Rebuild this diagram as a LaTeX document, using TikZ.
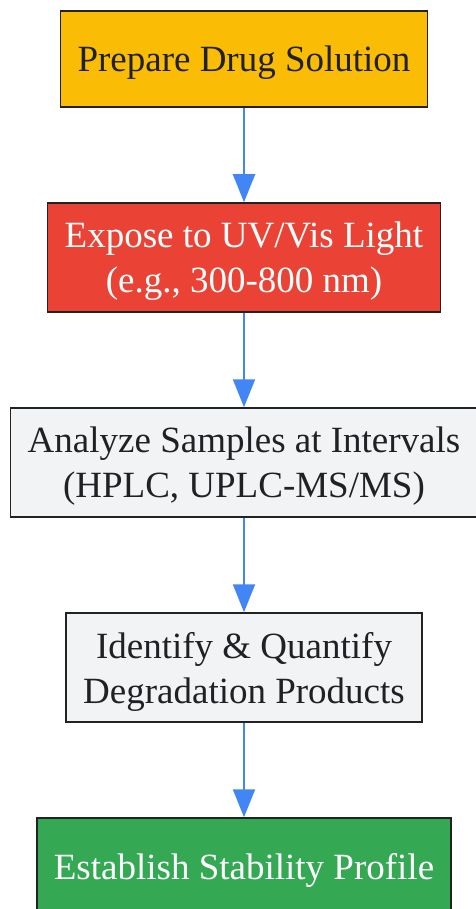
\documentclass[tikz,border=0pt]{standalone}
\usepackage{fontspec}
\setmainfont{Liberation Serif}
\usetikzlibrary{positioning,arrows.meta}

\definecolor{prepyellow}{HTML}{FBBC05}
\definecolor{exposered}{HTML}{EA4335}
\definecolor{analgray}{HTML}{F1F3F4}
\definecolor{stablegreen}{HTML}{34A853}
\definecolor{flowblue}{HTML}{4285F4}
\definecolor{boxline}{HTML}{222222}
\definecolor{darktext}{HTML}{202124}

\tikzset{
    stepbox/.style={draw=boxline,line width=1.5pt,rectangle,align=center,
        minimum height=96pt,inner xsep=17pt,text depth=0pt,
        font=\fontsize{37}{45}\selectfont},
    flow/.style={draw=flowblue,line width=2pt,-{Triangle[length=28pt,width=22pt]}}
}

\begin{document}
\begin{tikzpicture}[node distance=94.5pt]
            %\draw[very thin,color=gray] (0,0) grid (475pt,-909pt);
            \useasboundingbox (0,0) rectangle (475pt,-909pt);

            \node[stepbox,fill=prepyellow,text=darktext] (prepare) at (244pt,-59pt) {Prepare Drug Solution};
            \node[stepbox,fill=exposered,text=white,minimum height=109pt,below=of prepare] (expose) {Expose to UV/Vis Light\\(e.g., 300-800 nm)};
            \node[stepbox,fill=analgray,text=darktext,minimum height=109pt,below=of expose] (analyze) {Analyze Samples at Intervals\\(HPLC, UPLC-MS/MS)};
            \node[stepbox,fill=analgray,text=darktext,minimum height=109pt,below=of analyze] (identify) {Identify \& Quantify\\Degradation Products};
            \node[stepbox,fill=stablegreen,text=white,below=of identify] (establish) {Establish Stability Profile};

            \draw[flow] (prepare) -- (expose);
            \draw[flow] (expose) -- (analyze);
            \draw[flow] (analyze) -- (identify);
            \draw[flow] (identify) -- (establish);

        \end{tikzpicture}
\end{document}
